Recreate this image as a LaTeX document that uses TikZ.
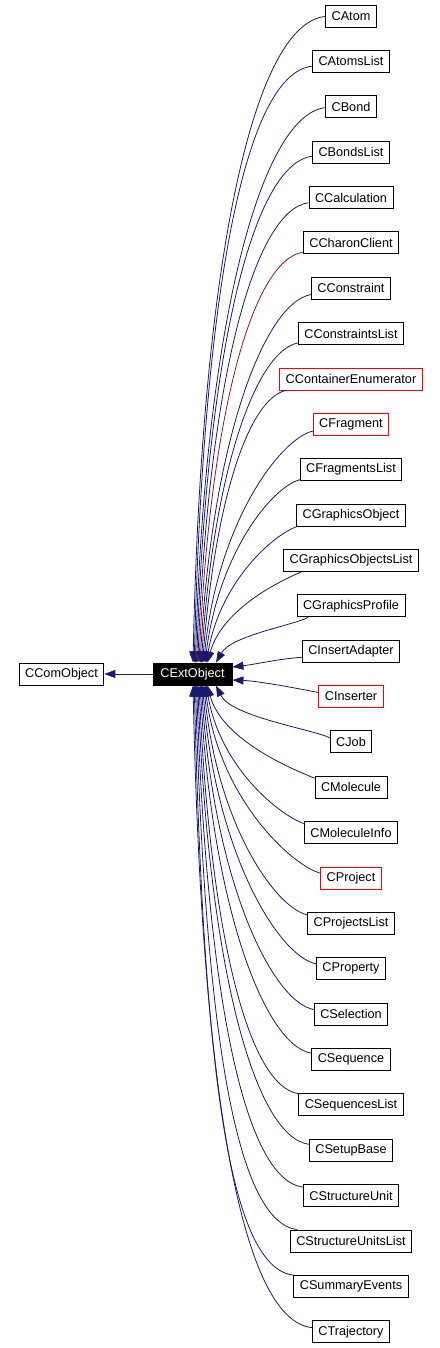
\documentclass[tikz,border=0pt]{standalone}
\usepackage{fontspec}
\setmainfont{Liberation Sans}
\usetikzlibrary{arrows.meta,calc}
\definecolor{navyedge}{HTML}{191970}
\definecolor{privedge}{HTML}{8B1A1A}
\definecolor{undoc}{HTML}{FF0000}
\tikzset{
  cls/.style={draw=black, line width=0.9pt, minimum height=22pt, inner xsep=6pt, inner ysep=0pt,
    font=\fontsize{12.7}{15}\selectfont, fill=white},
  redcls/.style={cls, draw=undoc},
  focus/.style={cls, fill=black, text=white, minimum width=79pt},
  edge/.style={draw=navyedge, line width=0.8pt, -{Triangle[length=11pt,width=8pt]}},
}
% #1 colour, #2 child node, #3 start angle, #4 anchor of ext (north/south), #5 x offset of tip
\newcommand\inh[5][navyedge]{%
  \draw[edge, draw=#1] let \p1=(#2.#3), \p2=($(ext.#4)+(#5,0)$), \n1={abs(\y2-\y1)} in
    (\p1) .. controls (\x1-0.1*\n1-10pt, {\y1+8pt*(\y2-\y1)/\n1})
          and (\x2+16pt-0.012*\n1, {\y1+0.4*\y2-0.4*\y1}) .. (\p2);}
\begin{document}
\begin{tikzpicture}[x=1pt, y=-1pt]
\useasboundingbox (0,0) rectangle (439,1348);
\node[cls] (com) at (61.5,674) {CComObject};
\node[focus] (ext) at (192.5,674) {CExtObject};
\draw[edge] (ext) -- (com);

\node[cls]    (atom)            at (351,16)      {CAtom};
\node[cls]    (atomslist)       at (351,61.37)   {CAtomsList};
\node[cls]    (bond)            at (351,106.74)  {CBond};
\node[cls]    (bondslist)       at (351,152.11)  {CBondsList};
\node[cls]    (calc)            at (351,197.48)  {CCalculation};
\node[cls]    (charon)          at (351,242.85)  {CCharonClient};
\node[cls]    (constraint)      at (351,288.22)  {CConstraint};
\node[cls]    (constraintslist) at (351,333.59)  {CConstraintsList};
\node[redcls] (contenum)        at (351,378.96)  {CContainerEnumerator};
\node[redcls] (fragment)        at (351,424.33)  {CFragment};
\node[cls]    (fragmentslist)   at (351,469.7)   {CFragmentsList};
\node[cls]    (gobj)            at (351,515.07)  {CGraphicsObject};
\node[cls]    (gobjlist)        at (351,560.44)  {CGraphicsObjectsList};
\node[cls]    (gprofile)        at (351,605.81)  {CGraphicsProfile};
\node[cls]    (insadapter)      at (351,651.18)  {CInsertAdapter};
\node[redcls] (inserter)        at (351,696.55)  {CInserter};
\node[cls]    (job)             at (351,741.92)  {CJob};
\node[cls]    (molecule)        at (351,787.29)  {CMolecule};
\node[cls]    (moleculeinfo)    at (351,832.66)  {CMoleculeInfo};
\node[redcls] (project)         at (351,878.03)  {CProject};
\node[cls]    (projectslist)    at (351,923.4)   {CProjectsList};
\node[cls]    (property)        at (351,968.77)  {CProperty};
\node[cls]    (selection)       at (351,1014.14) {CSelection};
\node[cls]    (sequence)        at (351,1059.51) {CSequence};
\node[cls]    (sequenceslist)   at (351,1104.88) {CSequencesList};
\node[cls]    (setupbase)       at (351,1150.25) {CSetupBase};
\node[cls]    (structunit)      at (351,1195.62) {CStructureUnit};
\node[cls]    (structunitslist) at (351,1240.99) {CStructureUnitsList};
\node[cls]    (summary)         at (351,1286.36) {CSummaryEvents};
\node[cls]    (trajectory)      at (351,1331.73) {CTrajectory};

\inh{atom}{181}{north}{0.5}
\inh{atomslist}{187}{north}{1.7}
\inh{bond}{182}{north}{2.9}
\inh{bondslist}{186}{north}{4.1}
\inh{calc}{187}{north}{5.3}
\inh[privedge]{charon}{191}{north}{6.5}
\inh{constraint}{189}{north}{7.7}
\inh{constraintslist}{190}{north}{8.9}
\inh{contenum}{190}{north}{10.1}
\inh{fragment}{190}{north}{11.3}
\inh{fragmentslist}{191}{north}{12.5}
\inh{gobj}{192}{north}{13.7}
\inh{gobjlist}{193}{north}{14.9}
\inh{gprofile}{195}{north}{23.5}
\draw[edge] (insadapter.187) .. controls +(-25,2) and +(25,-3) .. ($(ext.east)+(0,-7)$);
\draw[edge] (inserter.173) .. controls +(-25,-5) and +(25,1) .. ($(ext.east)+(0,6)$);
\inh{job}{169}{south}{23.5}
\inh{molecule}{166}{south}{14.9}
\inh{moleculeinfo}{169}{south}{13.7}
\inh{project}{171}{south}{12.5}
\inh{projectslist}{169}{south}{11.3}
\inh{property}{172}{south}{10.1}
\inh{selection}{173}{south}{8.9}
\inh{sequence}{171}{south}{7.7}
\inh{sequenceslist}{168}{south}{6.5}
\inh{setupbase}{172}{south}{5.3}
\inh{structunit}{170}{south}{4.1}
\inh{structunitslist}{168}{south}{2.9}
\inh{summary}{169}{south}{1.7}
\inh{trajectory}{174}{south}{0.5}
\end{tikzpicture}
\end{document}
